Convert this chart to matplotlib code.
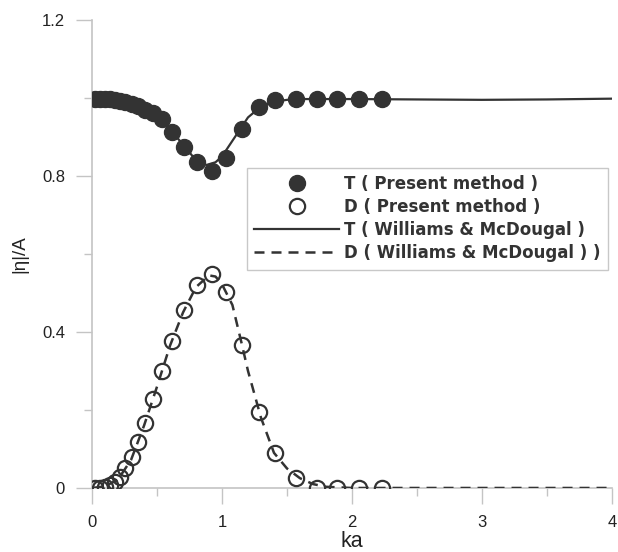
import matplotlib
matplotlib.use("Agg")
import matplotlib.pyplot as plt
from matplotlib.ticker import MultipleLocator

plt.rcParams['font.family'] = ['Liberation Sans', 'DejaVu Sans']

# Present method (symbols)
ka_pts = [0.023, 0.062, 0.10, 0.138, 0.177, 0.215, 0.254, 0.308, 0.354, 0.408,
          0.469, 0.538, 0.615, 0.708, 0.808, 0.923, 1.031, 1.154, 1.285, 1.408,
          1.569, 1.731, 1.885, 2.054, 2.231]
T_pts = [0.998, 0.998, 0.997, 0.996, 0.995, 0.993, 0.990, 0.985, 0.978, 0.970,
         0.960, 0.946, 0.912, 0.874, 0.835, 0.813, 0.846, 0.920, 0.977, 0.995,
         0.997, 0.997, 0.997, 0.997, 0.997]
D_pts = [0.0, 0.0, 0.002, 0.008, 0.015, 0.028, 0.051, 0.079, 0.118, 0.167,
         0.228, 0.300, 0.377, 0.456, 0.521, 0.549, 0.503, 0.367, 0.195, 0.090,
         0.026, 0.0, 0.0, 0.0, 0.0]

# Williams & McDougal (lines)
ka_T_line = [0.0, 0.1, 0.2, 0.3, 0.4, 0.5, 0.6, 0.7, 0.8, 0.88, 0.95, 1.0, 1.1,
             1.2, 1.3, 1.4, 1.5, 1.6, 1.8, 2.0, 2.5, 3.0, 3.5, 4.0]
T_line = [1.0, 0.998, 0.994, 0.986, 0.972, 0.955, 0.920, 0.880, 0.840, 0.828,
          0.835, 0.850, 0.900, 0.950, 0.978, 0.990, 0.995, 0.997, 0.997, 0.997,
          0.996, 0.995, 0.996, 0.998]
ka_D_line = [0.0, 0.1, 0.2, 0.3, 0.4, 0.5, 0.6, 0.7, 0.8, 0.9, 0.95, 1.0, 1.08,
             1.15, 1.2, 1.3, 1.4, 1.5, 1.6, 1.7, 1.8, 2.0, 2.5, 3.0, 4.0]
D_line = [0.0, 0.004, 0.022, 0.072, 0.160, 0.260, 0.365, 0.450, 0.515, 0.545,
          0.542, 0.522, 0.469, 0.372, 0.300, 0.180, 0.090, 0.050, 0.025, 0.010,
          0.003, 0.0, 0.0, 0.0, 0.0]

labels = ["T ( Present method )", "D ( Present method )",
          "T ( Williams & McDougal )", "D ( Williams & McDougal ) )"]

dark = '#333333'
grey = '#c4c4c4'

fig = plt.figure(figsize=(6.18, 5.52), dpi=100)
ax = fig.add_axes([0.149, 0.116, 0.841, 0.848])

h1, = ax.plot(ka_pts, T_pts, 'o', color=dark, ms=11.5, mec=dark, zorder=4)
h2, = ax.plot(ka_pts, D_pts, 'o', color=dark, ms=11, mfc='none', mec=dark,
              mew=1.6, zorder=4)
h3, = ax.plot(ka_T_line, T_line, '-', color=dark, lw=1.6, zorder=3)
h4, = ax.plot(ka_D_line, D_line, '--', color=dark, lw=1.8, dashes=(4, 2.8), zorder=3)

ax.set_xlim(0, 4)
ax.set_ylim(0, 1.2)
ax.xaxis.set_minor_locator(MultipleLocator(0.5))
ax.yaxis.set_minor_locator(MultipleLocator(0.2))
ax.set_xticks([0, 1, 2, 3, 4])
ax.set_xticklabels(['0', '1', '2', '3', '4'])
ax.set_yticks([0, 0.4, 0.8, 1.2])
ax.set_yticklabels(['0', '0.4', '0.8', '1.2'])

for s in ['top', 'right']:
    ax.spines[s].set_visible(False)
for s in ['left', 'bottom']:
    ax.spines[s].set_color(grey)
    ax.spines[s].set_linewidth(1.2)

ax.tick_params(which='major', direction='out', length=11.5, width=1.0, color=grey,
               labelsize=12, labelcolor='#222222', pad=8)
ax.tick_params(which='minor', direction='out', length=6, width=1.0, color=grey)

ax.set_xlabel('ka', fontsize=15.5, color='#222222', labelpad=1)
ax.set_ylabel('|η|/A', fontsize=13.5, color='#222222', labelpad=10)

leg = ax.legend([h1, h2, h3, h4], labels, loc='upper left',
                bbox_to_anchor=(0.298, 0.684), frameon=True, fancybox=False,
                prop={'family': 'DejaVu Sans', 'weight': 'bold', 'size': 12},
                handlelength=5.1, handletextpad=0.25, labelspacing=0.3,
                borderpad=0.45, borderaxespad=0)
leg.get_frame().set_edgecolor('#bbbbbb')
leg.get_frame().set_linewidth(1.0)
for t in leg.get_texts():
    t.set_color('#333333')

fig.savefig('out.png', dpi=100)
